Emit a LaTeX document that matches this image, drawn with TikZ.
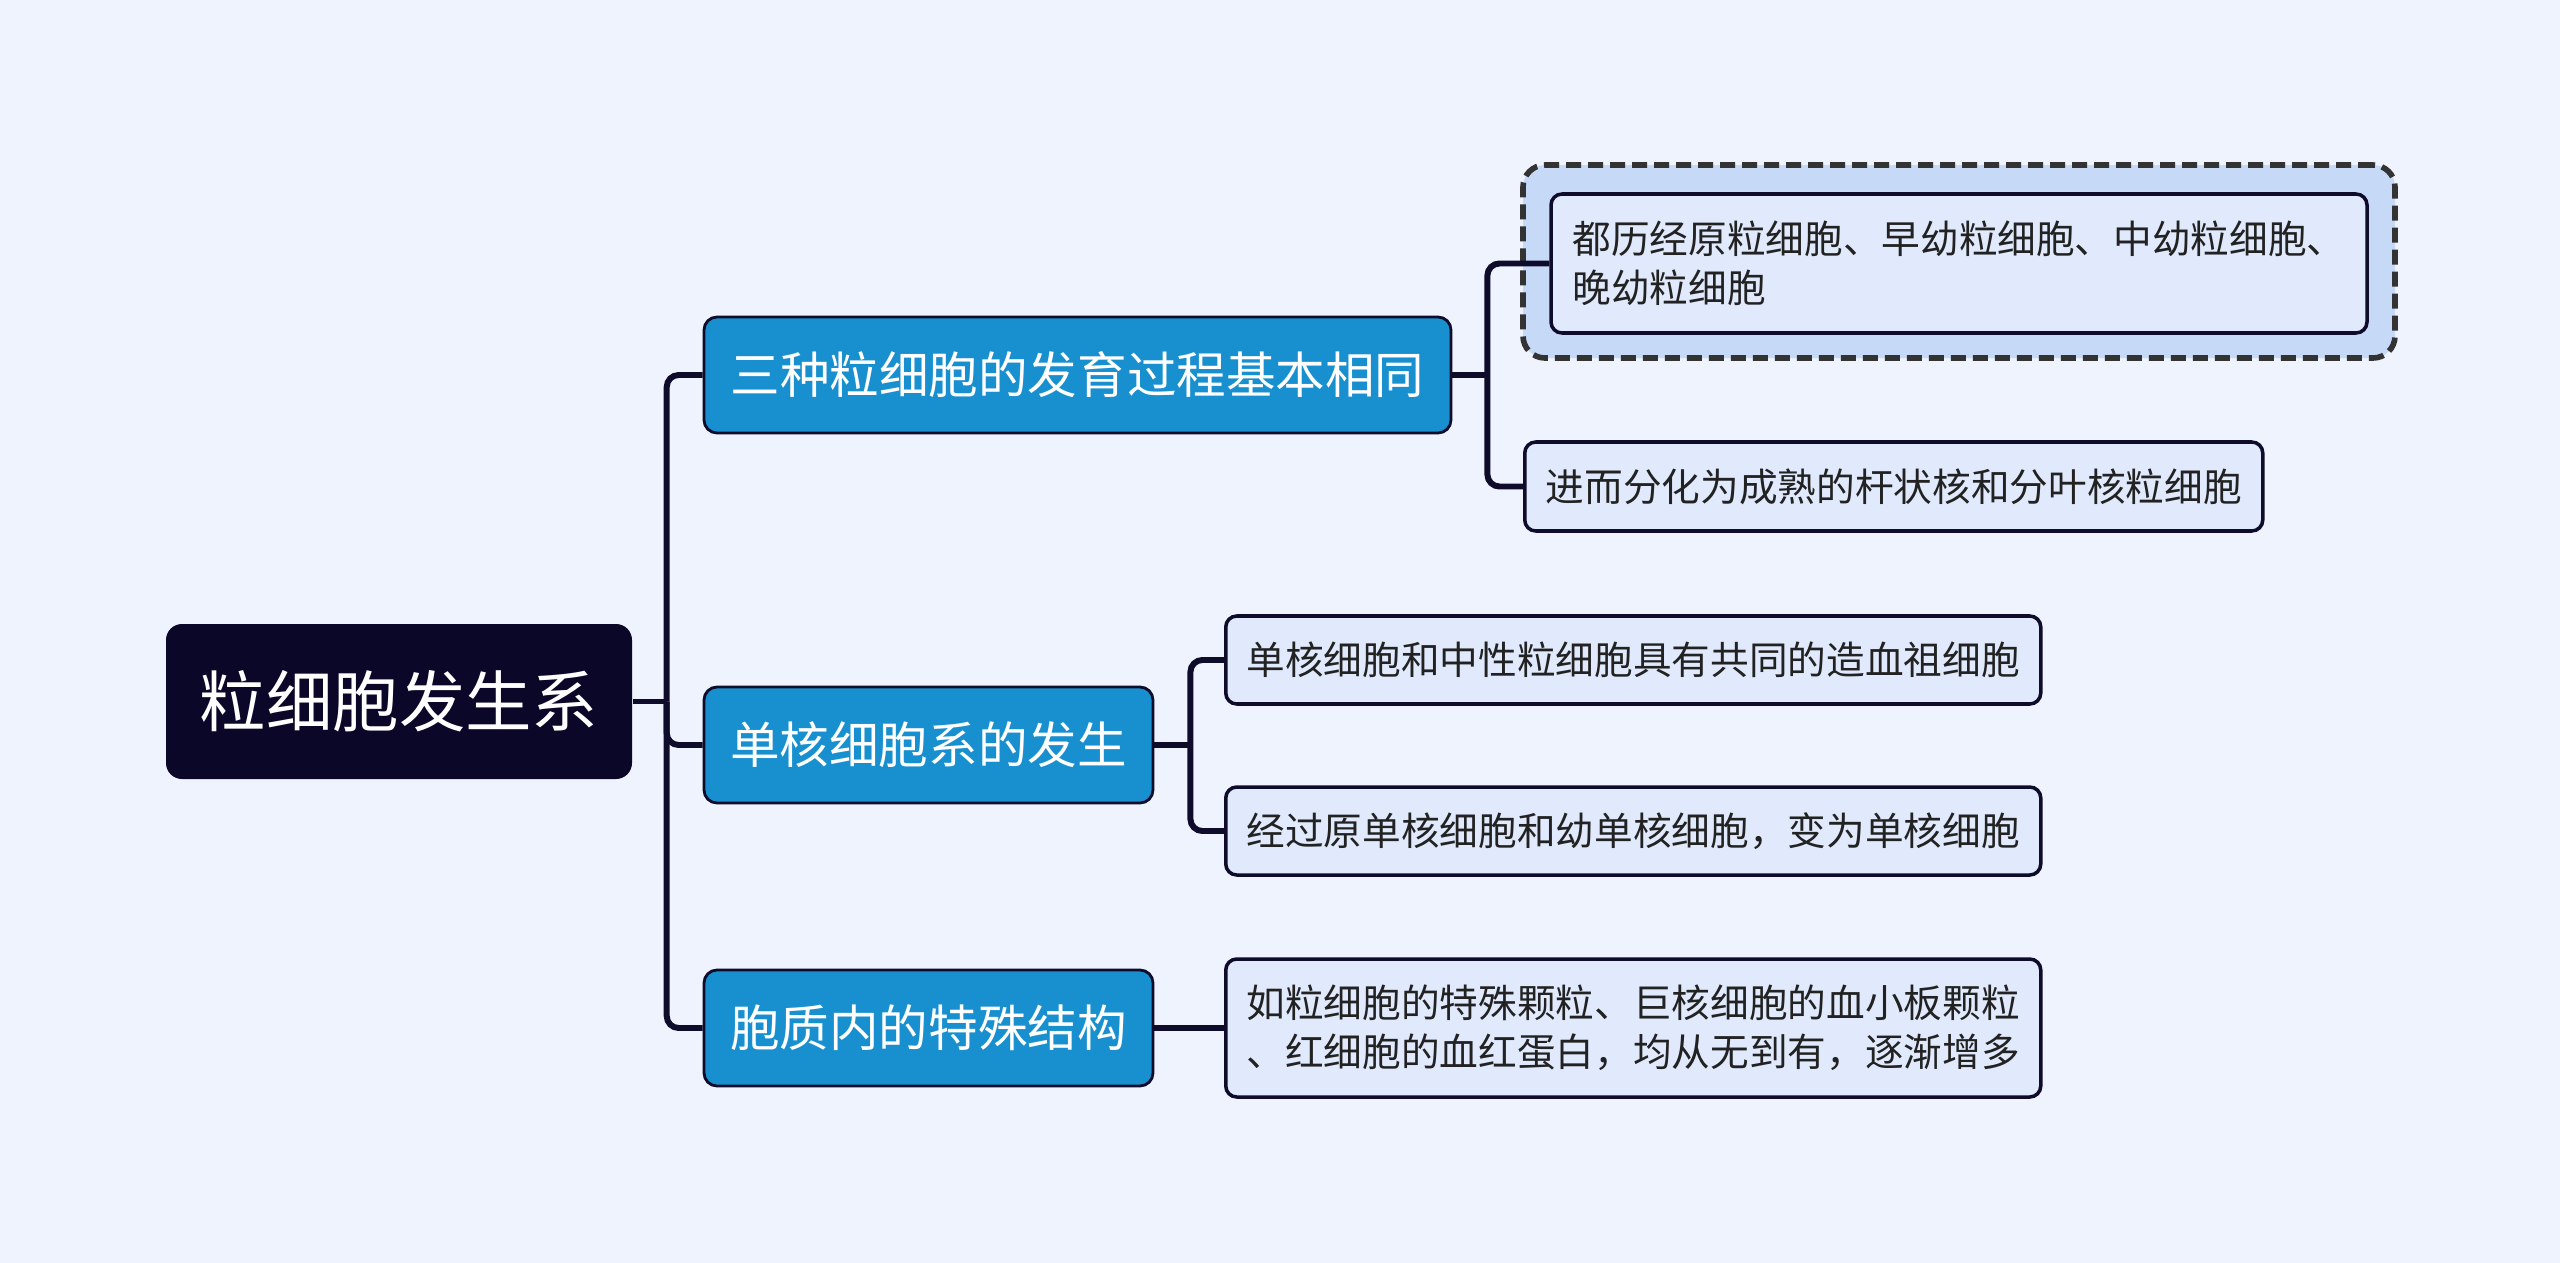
\documentclass[tikz,border=0pt]{standalone}
\usepackage{fontspec}
\setmainfont{Noto Sans CJK SC}
\usepackage{xcolor}
\usetikzlibrary{positioning}
\definecolor{lzFondo}{RGB}{238,243,254}
\definecolor{lzRaiz}{RGB}{11,7,40}
\definecolor{lzRama}{RGB}{24,144,208}
\definecolor{lzHoja}{RGB}{225,234,252}
\definecolor{lzSel}{RGB}{198,218,248}
\definecolor{lzLinea}{RGB}{14,12,42}
\definecolor{lzTexto}{RGB}{34,34,34}

\begin{document}
\begin{tikzpicture}[x=0.1mm, y=-0.1mm,
     raiz/.style={rectangle, rounded corners=1.6mm, fill=lzRaiz, text=white,
                  minimum width=46.6mm, minimum height=15.5mm,
                  font=\fontsize{18.9}{22}\selectfont},
     rama/.style={rectangle, rounded corners=1.3mm, draw=lzLinea, line width=0.8pt,
                  fill=lzRama, text=white, minimum height=11.6mm,
                  font=\fontsize{14.1}{17}\selectfont},
     hoja/.style={rectangle, rounded corners=1.1mm, draw=lzLinea, line width=1pt,
                  fill=lzHoja, text=lzTexto, align=left, inner sep=0pt,
                  font=\fontsize{11}{14}\selectfont},
     sel/.style={rectangle, rounded corners=2.2mm, draw=black!80, line width=1.6pt,
                 dash pattern=on 1.5mm off 0.7mm, fill=lzSel},
     con/.style={lzLinea, line width=1.7pt, rounded corners=1.2mm}]
    \fill[lzFondo] (0,0) rectangle (2560,1263);
    \useasboundingbox (0,0) rectangle (2560,1263);
    % raiz y ramas
    \node[raiz] (r) at (399,701.5) {粒细胞发生系};
    \node[rama, minimum width=74.7mm] (m1) at (1077.5,375) {三种粒细胞的发育过程基本相同};
    \node[rama, minimum width=44.9mm] (m2) at (928.5,745) {单核细胞系的发生};
    \node[rama, minimum width=44.9mm] (m3) at (928.5,1028) {胞质内的特殊结构};
    % hojas
    \node[sel, minimum width=87.2mm, minimum height=19.3mm] (s1) at (1959,261.5) {};
    \node[hoja, minimum width=81.6mm, minimum height=13.9mm] (h1) at (1959,263.5)
         {都历经原粒细胞、早幼粒细胞、中幼粒细胞、\\晚幼粒细胞};
    \node[hoja, anchor=west, minimum width=73.8mm, minimum height=8.9mm] (h2) at (1523,486.5)
         {进而分化为成熟的杆状核和分叶核粒细胞};
    \node[hoja, anchor=west, minimum width=81.5mm, minimum height=8.8mm] (h3) at (1224,660)
         {单核细胞和中性粒细胞具有共同的造血祖细胞};
    \node[hoja, anchor=west, minimum width=81.5mm, minimum height=8.8mm] (h4) at (1224,831)
         {经过原单核细胞和幼单核细胞，变为单核细胞};
    \node[hoja, anchor=west, minimum width=81.5mm, minimum height=13.8mm] (h5) at (1224,1028)
         {如粒细胞的特殊颗粒、巨核细胞的血小板颗粒\\、红细胞的血红蛋白，均从无到有，逐渐增多};
    % conectores
    \coordinate (j0) at ([xshift=3.4mm]r.east);
    \coordinate (j1) at ([xshift=3.5mm]m1.east);
    \coordinate (j2) at ([xshift=3.6mm]m2.east);
    \draw[con] (r.east) -- (j0);
    \draw[con] (j0) |- (m1.west);
    \draw[con] (j0) |- (m2.west);
    \draw[con] (j0) |- (m3.west);
    \draw[con] (m1.east) -- (j1);
    \draw[con] (j1) |- (h1.west);
    \draw[con] (j1) |- (h2.west);
    \draw[con] (m2.east) -- (j2);
    \draw[con] (j2) |- (h3.west);
    \draw[con] (j2) |- (h4.west);
    \draw[con] (m3.east) -- (h5.west);
\end{tikzpicture}
\end{document}
